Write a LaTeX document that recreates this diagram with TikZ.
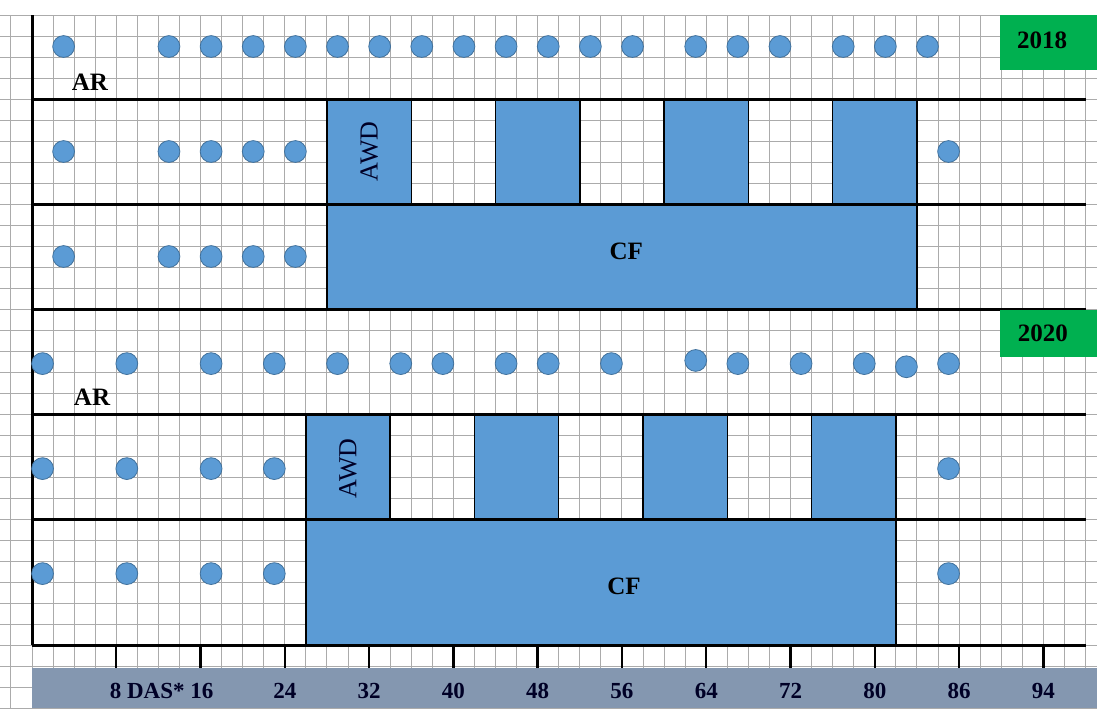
\documentclass[tikz,border=0pt]{standalone}
\usepackage{fontspec}
\setmainfont{Liberation Serif}
\definecolor{boxblue}{HTML}{5B9BD5}
\definecolor{dotedge}{HTML}{41719C}
\definecolor{yeargreen}{HTML}{00B050}
\definecolor{barslate}{HTML}{8497B0}
\definecolor{gridgray}{HTML}{ABABAB}
\begin{document}
\begin{tikzpicture}[x=10.535pt,y=-10.5pt,
  gridline/.style={draw=gridgray,line width=0.5pt},
  thickline/.style={draw=black,line width=1.5pt},
  tickline/.style={draw=black,line width=1.2pt},
  bluebox/.style={fill=boxblue,draw=black,line width=0.7pt},
  dot/.style={circle,fill=boxblue,draw=dotedge,line width=0.4pt,minimum size=10.9pt,inner sep=0pt},
  yearbox/.style={fill=yeargreen},
  yeartext/.style={font=\bfseries\fontsize{12.5}{14}\selectfont,text=black},
  rowlab/.style={font=\bfseries\fontsize{12.5}{14}\selectfont,text=black},
  axislab/.style={font=\bfseries\fontsize{11.5}{13}\selectfont,text=black!85!blue},
  boxlab/.style={font=\fontsize{13}{14}\selectfont,text=black!85!blue}]
\useasboundingbox (-1.5188,-0.7143) rectangle (50.546,33);
% grid
\fill[white] (-1.5188,-0.7143) rectangle (50.546,33);
\foreach \gy in {0,...,33} \draw[gridline] (-1.5188,\gy) -- (50.546,\gy);
\foreach \gx in {-1,...,50} \draw[gridline] (\gx,0) -- (\gx,33);
% boxes 2018
\draw[bluebox] (14,9) rectangle (42,14);
\foreach \bx in {14,22,30,38} \draw[bluebox] (\bx,4) rectangle (\bx+4,9);
% boxes 2020
\draw[bluebox] (13,24) rectangle (41,30);
\foreach \bx in {13,21,29,37} \draw[bluebox] (\bx,19) rectangle (\bx+4,24);
% thick lines
\draw[thickline] (0,0) -- (0,30);
\foreach \ly in {4,9,14,19,24,30} \draw[thickline] (0,\ly) -- (50,\ly);
% year boxes
\fill[yearbox] (45.94,0) rectangle (50.546,2.62);
\node[yeartext] (y2018) at (47.94,1.2) {2018};
\fill[yearbox] (45.94,14.05) rectangle (50.546,16.29);
\node[yeartext] (y2020) at (47.98,15.15) {2020};
% row labels
\node[rowlab] (ar1) at (2.75,3.2) {AR};
\node[rowlab] (ar2) at (2.85,18.2) {AR};
\node[boxlab,rotate=90] (awd1) at (16,6.5) {AWD};
\node[boxlab,rotate=90] (awd2) at (15,21.6) {AWD};
\node[rowlab] (cf1) at (28.2,11.25) {CF};
\node[rowlab] (cf2) at (28.1,27.2) {CF};
% dots 2018
\foreach \dx [count=\i] in {1.5,6.5,8.5,10.5,12.5,14.5,16.5,18.5,20.5,22.5,24.5,26.5,28.5,31.5,33.5,35.5,38.5,40.5,42.5}
  \node[dot] (a1-\i) at (\dx,1.5) {};
\foreach \dx [count=\i] in {1.5,6.5,8.5,10.5,12.5,43.5}
  \node[dot] (a2-\i) at (\dx,6.5) {};
\foreach \dx [count=\i] in {1.5,6.5,8.5,10.5,12.5}
  \node[dot] (a3-\i) at (\dx,11.5) {};
% dots 2020
\foreach \dx/\dy [count=\i] in {0.5/16.6,4.5/16.6,8.5/16.6,11.5/16.6,14.5/16.6,17.5/16.6,19.5/16.6,22.5/16.6,24.5/16.6,27.5/16.6,31.5/16.45,33.5/16.6,36.5/16.6,39.5/16.6,41.5/16.75,43.5/16.6}
  \node[dot] (b1-\i) at (\dx,\dy) {};
\foreach \dx [count=\i] in {0.5,4.5,8.5,11.5,43.5}
  \node[dot] (b2-\i) at (\dx,21.6) {};
\foreach \dx [count=\i] in {0.5,4.5,8.5,11.5,43.5}
  \node[dot] (b3-\i) at (\dx,26.6) {};
% axis bar
\fill[barslate] (0,31.1) rectangle (50.546,33);
\foreach \t in {1,...,12} \draw[tickline] (4*\t,30) -- (4*\t,31.1);
\node[axislab] (l8) at (6.15,32.2) {8 DAS* 16};
\foreach \lx/\lt in {12/24,16/32,20/40,24/48,28/56,32/64,36/72,40/80,44/86,48/94}
  \node[axislab] (l\lt) at (\lx,32.2) {\lt};
\end{tikzpicture}
\end{document}
